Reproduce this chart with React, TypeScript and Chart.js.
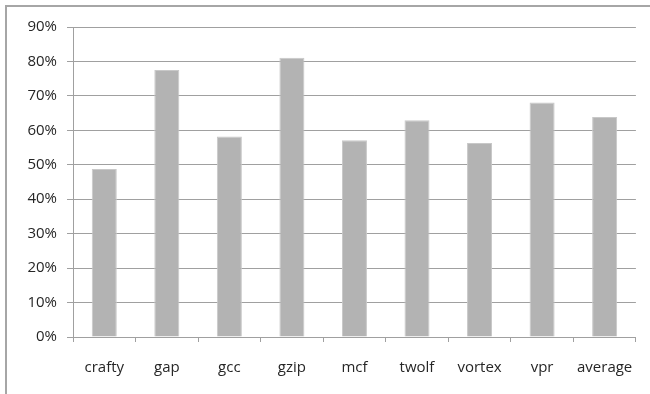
import React, { useEffect, useRef } from "react";
import { Chart, registerables } from "chart.js";

Chart.register(...registerables);

const benchmarks = ["crafty", "gap", "gcc", "gzip", "mcf", "twolf", "vortex", "vpr", "average"];
const ratios = [48.8, 77.5, 58.2, 81.1, 57.1, 62.9, 56.3, 68.1, 63.9];
const yTicks = [0, 10, 20, 30, 40, 50, 60, 70, 80, 90];

// Light frame along the top and left edges of the figure
const framePlugin = {
  id: "frame",
  beforeDraw(chart: Chart) {
    const ctx = chart.ctx;
    ctx.save();
    ctx.fillStyle = "#ffffff";
    ctx.fillRect(0, 0, chart.width, chart.height);
    ctx.strokeStyle = "#a6a6a6";
    ctx.lineWidth = 2;
    ctx.beginPath();
    ctx.moveTo(6, chart.height);
    ctx.lineTo(6, 6);
    ctx.lineTo(chart.width, 6);
    ctx.stroke();
    ctx.restore();
  },
};

const labelFont = { family: "'Open Sans', sans-serif", size: 15 };

export default function App() {
  const ref = useRef<HTMLCanvasElement | null>(null);

  useEffect(() => {
    document.body.style.margin = "0";
    const canvas = ref.current;
    if (!canvas) return;
    const chart = new Chart(canvas, {
      type: "bar",
      data: {
        labels: benchmarks,
        datasets: [
          {
            data: ratios,
            backgroundColor: "#b3b3b3",
            borderColor: "#c8c8c8",
            borderWidth: 1,
            barPercentage: 0.4,
            categoryPercentage: 1,
          },
        ],
      },
      options: {
        responsive: false,
        animation: false,
        layout: { padding: { left: 0, top: 27, right: 13, bottom: 0 } },
        plugins: {
          legend: { display: false },
          tooltip: { enabled: false },
        },
        scales: {
          x: {
            afterFit(scale: any) {
              scale.height = 57;
            },
            grid: {
              offset: true,
              drawOnChartArea: false,
              drawTicks: true,
              tickLength: 5,
              color: "#a0a0a0",
            },
            border: { display: true, color: "#a0a0a0", width: 1 },
            ticks: {
              color: "#262626",
              font: labelFont,
              padding: 17,
              maxRotation: 0,
              autoSkip: false,
            },
          },
          y: {
            min: 0,
            max: 90,
            afterFit(scale: any) {
              scale.width = 73;
            },
            afterBuildTicks(scale: any) {
              scale.ticks = yTicks.map((v) => ({ value: v }));
            },
            grid: {
              color: "#a0a0a0",
              lineWidth: 1,
              tickLength: 6,
              drawTicks: true,
            },
            border: { display: true, color: "#a0a0a0", width: 1 },
            ticks: {
              color: "#262626",
              font: labelFont,
              padding: 10,
              callback: (v: any) => `${v}%`,
            },
          },
        },
      },
      plugins: [framePlugin],
    });
    return () => chart.destroy();
  }, []);

  return (
    <div style={{ width: 650, height: 394 }}>
      <canvas ref={ref} width={650} height={394} style={{ display: "block" }} />
    </div>
  );
}
